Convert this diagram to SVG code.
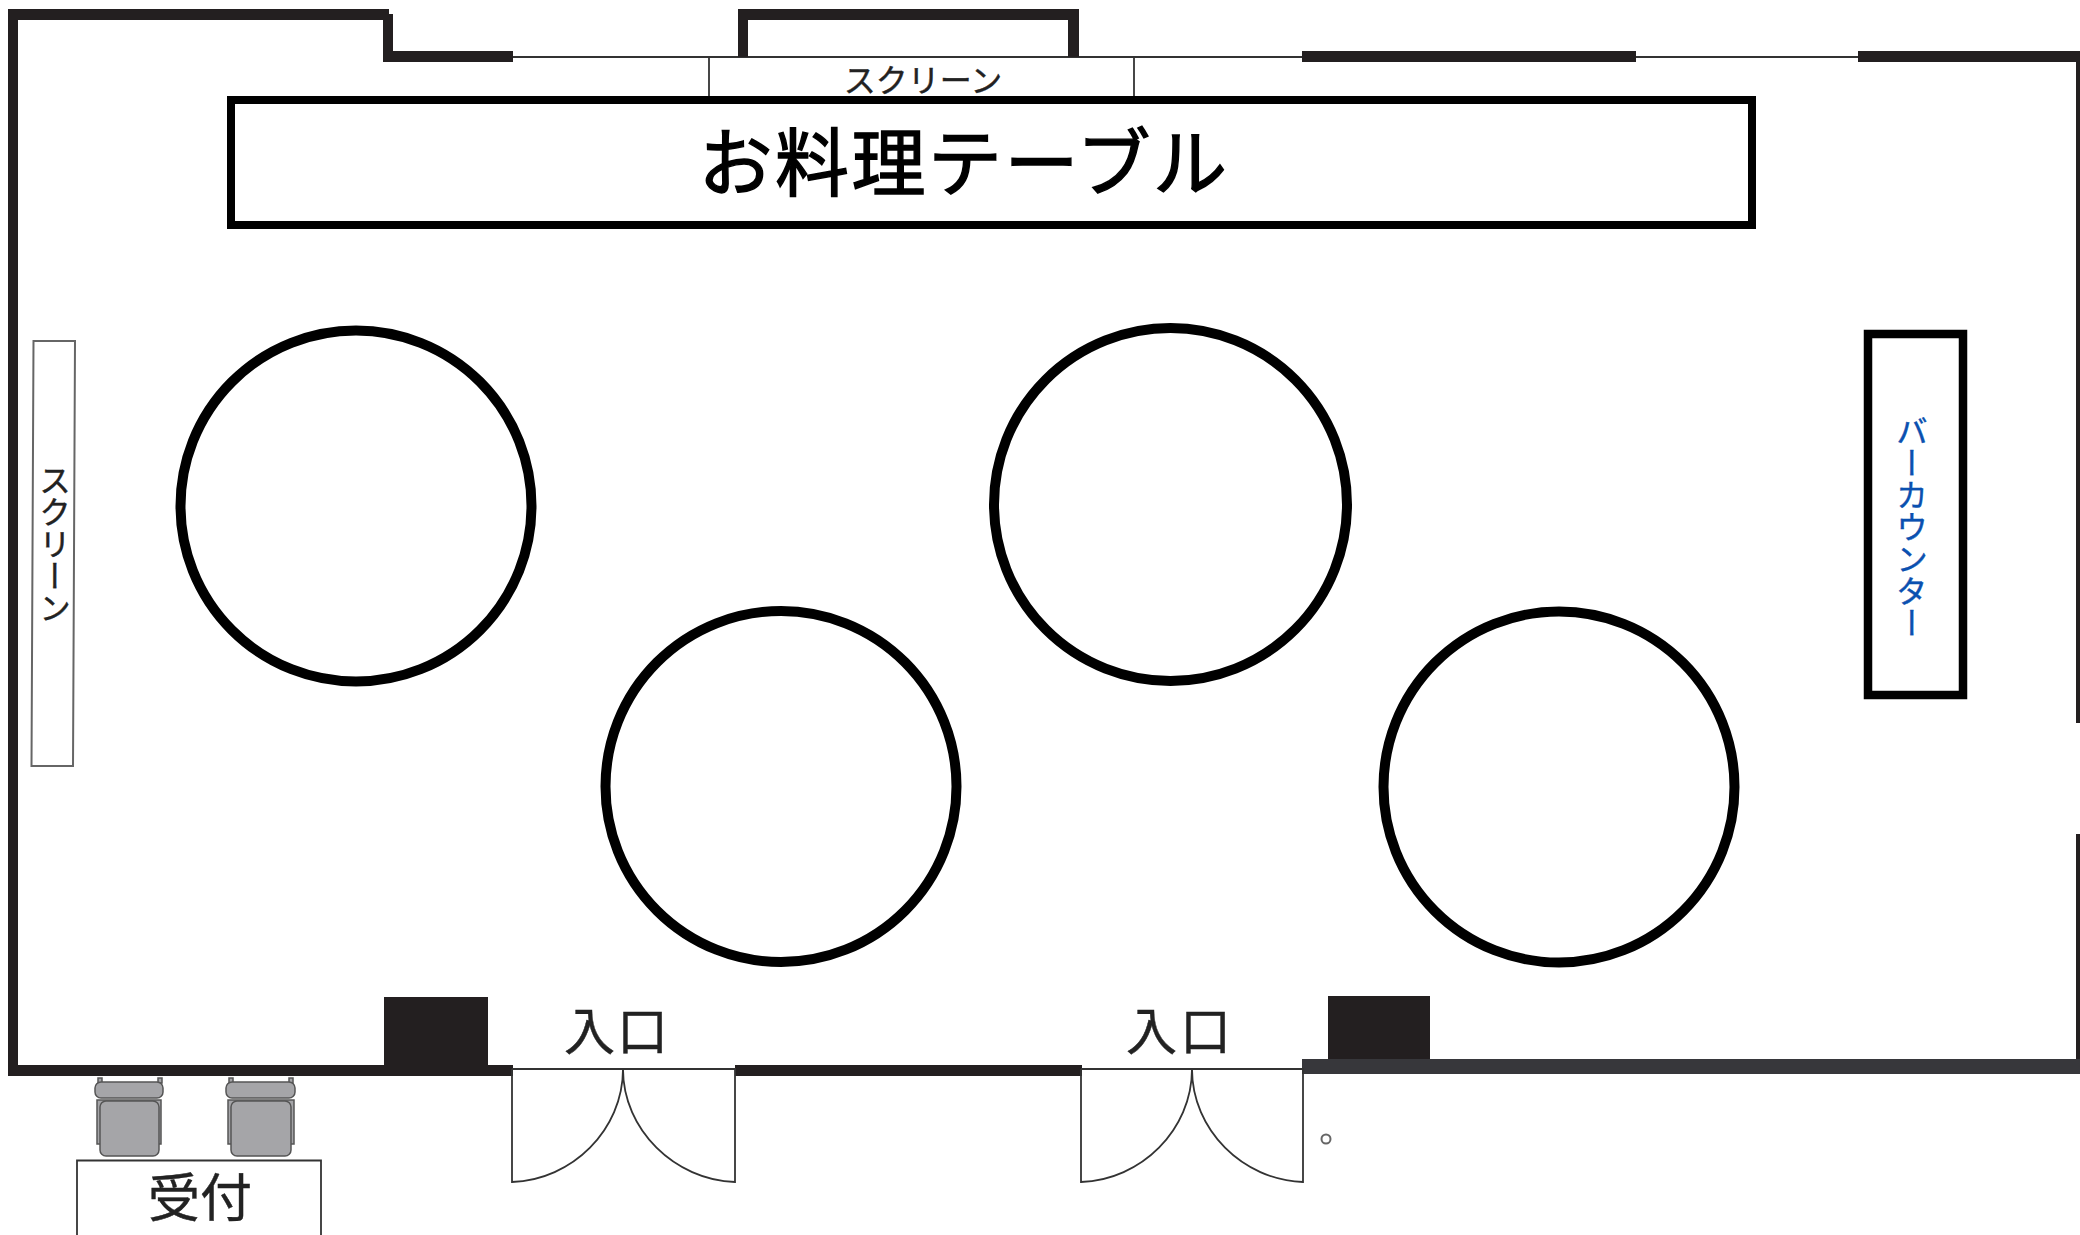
<svg xmlns="http://www.w3.org/2000/svg" width="2080" height="1235" viewBox="0 0 2080 1235">
<style>
text{font-family:"Noto Sans CJK JP","Noto Sans",sans-serif;fill:#222;stroke:#222;stroke-width:.4}
.wall{fill:#231f20}
.thin{fill:none;stroke:#333;stroke-width:1.8}
.heavy{fill:#fff;stroke:#000}
.tbl{fill:#fff;stroke:#000;stroke-width:8}
.seat{fill:#a5a5a8;stroke:#555;stroke-width:1.5}
.v{writing-mode:vertical-rl;text-anchor:middle}
</style>
<rect width="2080" height="1235" fill="#fff"/>
<g id="walls">
<path class="thin" d="M513 57H1302M1636 57H1858"/>
<path class="wall" d="M8 9H389V14H393V51H513V62H383V20H18V1065H384V997H488V1065H513V1076H8Z"/>
<path class="wall" d="M738 9H1079V57H1068V20H748V57H738Z"/>
<rect class="wall" x="1302" y="51" width="334" height="11"/>
<path class="wall" d="M1858 51H2080V62H1858Z"/>
<rect class="wall" x="2076" y="58" width="4" height="665"/>
<rect class="wall" x="2076" y="834" width="4" height="233"/>
<rect class="wall" x="735" y="1065" width="347" height="11"/>
<rect x="1302" y="1059" width="778" height="15" fill="#37373b"/>
<rect class="wall" x="1328" y="996" width="102" height="63"/>
</g>
<g id="screen-top">
<path class="thin" d="M709 57V97M1134 57V97"/>
<text x="923" y="92" font-size="32" text-anchor="middle">スクリーン</text>
</g>
<g id="food-table">
<rect x="231" y="100" width="1521" height="125" class="tbl"/>
<text x="964" y="190" font-size="74" letter-spacing="2.500" text-anchor="middle" style="fill:#000;stroke:#000;stroke-width:1.4">お料理テーブル</text>
</g>
<g id="screen-left">
<path d="M33.5 341H75L73 766H31.5Z" fill="#fff" stroke="#666" stroke-width="2"/>
<text class="v" x="55" y="544" font-size="32">スクリーン</text>
</g>
<g id="table-1"><circle cx="356" cy="506" r="175.500" class="heavy" stroke-width="10"/></g>
<g id="table-2"><circle cx="781" cy="786.500" r="175.500" class="heavy" stroke-width="10"/></g>
<g id="table-3"><circle cx="1170.500" cy="504.500" r="176.500" class="heavy" stroke-width="10"/></g>
<g id="table-4"><circle cx="1559" cy="787" r="175.500" class="heavy" stroke-width="10"/></g>
<g id="bar-counter">
<rect x="1868" y="334" width="95" height="361" class="heavy" stroke-width="8.500"/>
<text class="v" x="1912" y="527" font-size="32" style="fill:#0a50b0;stroke:#0a50b0">バーカウンター</text>
</g>
<g id="door-1">
<path class="thin" d="M512 1069H735V1182C675 1180 623 1130 623 1069C623 1130 572 1180 512 1182V1069"/>
<text x="617" y="1050" font-size="51" text-anchor="middle" letter-spacing="2">入口</text>
</g>
<g id="door-2">
<path class="thin" d="M1081 1069H1303V1182C1243 1180 1192 1130 1192 1069C1192 1130 1141 1180 1081 1182V1069"/>
<text x="1180" y="1050" font-size="51" text-anchor="middle" letter-spacing="3">入口</text>
<circle cx="1326" cy="1139" r="4.500" fill="#fff" stroke="#666" stroke-width="2"/>
</g>
<g id="chair-1">
<path class="seat" d="M97 1100V1144H161V1100Z"/>
<path class="seat" d="M98 1083V1078H102V1083ZM158 1083V1078H162V1083Z"/>
<rect class="seat" x="95" y="1082" width="68" height="16" rx="6"/>
<rect class="seat" x="100" y="1101" width="59" height="55" rx="6"/>
</g>
<g id="chair-2">
<path class="seat" d="M228 1100V1144H294V1100Z"/>
<path class="seat" d="M229 1083V1078H233V1083ZM289 1083V1078H293V1083Z"/>
<rect class="seat" x="226" y="1082" width="69" height="16" rx="6"/>
<rect class="seat" x="231" y="1101" width="60" height="55" rx="6"/>
</g>
<g id="reception">
<path class="thin" d="M77 1235V1160.500H321V1235"/>
<text x="200" y="1217" font-size="52" text-anchor="middle">受付</text>
</g>
</svg>
